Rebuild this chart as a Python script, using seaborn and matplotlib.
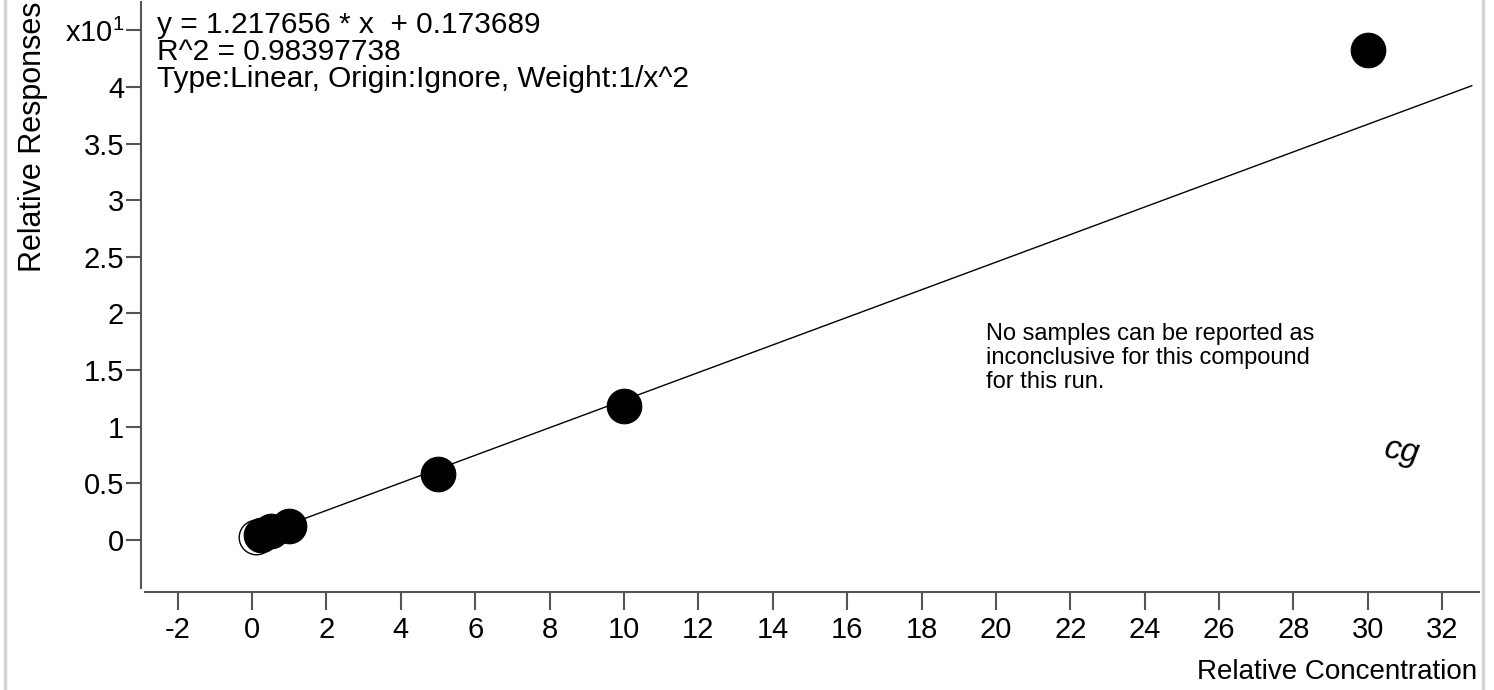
import matplotlib
matplotlib.use("Agg")
import matplotlib.pyplot as plt
from matplotlib.lines import Line2D
import seaborn as sns
import numpy as np
import pandas as pd

# calibration data (response in real units, plotted as x10^1)
concentration = [0.1, 0.25, 0.5, 1.0, 5.0, 10.0, 30.0]
response = [0.3, 0.48, 0.78, 1.24, 5.8, 11.8, 43.25]
excluded = [True, False, False, False, False, False, False]

slope = 1.217656
intercept = 0.173689
line_x = [0.0, 32.8]

x_ticks = list(range(-2, 33, 2))
y_ticks = [0, 0.5, 1, 1.5, 2, 2.5, 3, 3.5, 4, 4.5]
y_ticklabels = ["0", "0.5", "1", "1.5", "2", "2.5", "3", "3.5", "4", "x10$^1$"]

eq_lines = ["y = 1.217656 * x  + 0.173689", "R^2 = 0.98397738",
            "Type:Linear, Origin:Ignore, Weight:1/x^2"]
note_lines = ["No samples can be reported as", "inconclusive for this compound",
              "for this run."]

df = pd.DataFrame({"conc": concentration,
                   "resp": np.array(response) / 10.0,
                   "excluded": excluded})

sns.set_style("white")
plt.rcParams['font.family'] = ['Liberation Sans', 'DejaVu Sans']
plt.rcParams['mathtext.fontset'] = 'custom'
plt.rcParams['mathtext.rm'] = 'Liberation Sans'

W, H = 1494, 690
fig = plt.figure(figsize=(W / 100, H / 100), dpi=100)
ax = fig.add_axes([145 / W, 1 - 588 / H, (1479 - 145) / W, (588 - 2) / H])

# fit line
lx = np.array(line_x)
ax.plot(lx, (slope * lx + intercept) / 10.0, color="black", lw=1.0, zorder=1)

sns.scatterplot(data=df[~df["excluded"]], x="conc", y="resp", ax=ax,
                color="black", s=620, edgecolor="black", linewidth=0.8,
                zorder=3, legend=False)
sns.scatterplot(data=df[df["excluded"]], x="conc", y="resp", ax=ax,
                facecolor="white", s=620, edgecolor="black", linewidth=1.0,
                zorder=2, legend=False)

ax.set_xlim(-2.88, 32.99)
ax.set_ylim(-0.424, 4.75)
ax.set_xticks(x_ticks)
ax.set_xticklabels([str(t) for t in x_ticks])
ax.set_yticks(y_ticks)
ax.set_yticklabels(y_ticklabels)
ax.set_xlabel("")
ax.set_ylabel("")

for s in ["top", "right"]:
    ax.spines[s].set_visible(False)
ax.spines["bottom"].set_position(("outward", 3))
ax.spines["left"].set_position(("outward", 3))
for s in ["bottom", "left"]:
    ax.spines[s].set_color("#555555")
    ax.spines[s].set_linewidth(1.5)
ax.tick_params(axis="x", direction="out", length=13, width=1.5, color="#555555",
               labelsize=21, pad=4, bottom=True, labelcolor="black")
ax.tick_params(axis="y", direction="out", length=11, width=1.5, color="#555555",
               labelsize=21, pad=1, left=True, labelcolor="black")

for i, line in enumerate(eq_lines):
    fig.text(157 / W, 1 - (33 + 27 * i) / H, line, fontsize=21.5,
             va="baseline", ha="left", color="black")
for i, line in enumerate(note_lines):
    fig.text(986 / W, 1 - (340 + 24 * i) / H, line, fontsize=17,
             va="baseline", ha="left", color="black")
fig.text(1402 / W, 1 - 452 / H, "cg", fontsize=24, va="center", ha="center",
         style="italic", rotation=-10, color="black")

fig.text(33 / W, 1 - 272 / H, "Relative Responses", rotation=90,
         fontsize=22, ha="center", va="bottom", color="black")
fig.text(1477 / W, 1 - 672 / H, "Relative Concentration",
         fontsize=20, ha="right", va="center", color="black")

# page border lines
fig.add_artist(Line2D([5 / W, 5 / W], [0, 1], transform=fig.transFigure,
                      color="#d4d4d4", lw=2.5))
fig.add_artist(Line2D([1483 / W, 1483 / W], [0, 1], transform=fig.transFigure,
                      color="#d4d4d4", lw=2.5))

fig.savefig("out.png", dpi=100)
